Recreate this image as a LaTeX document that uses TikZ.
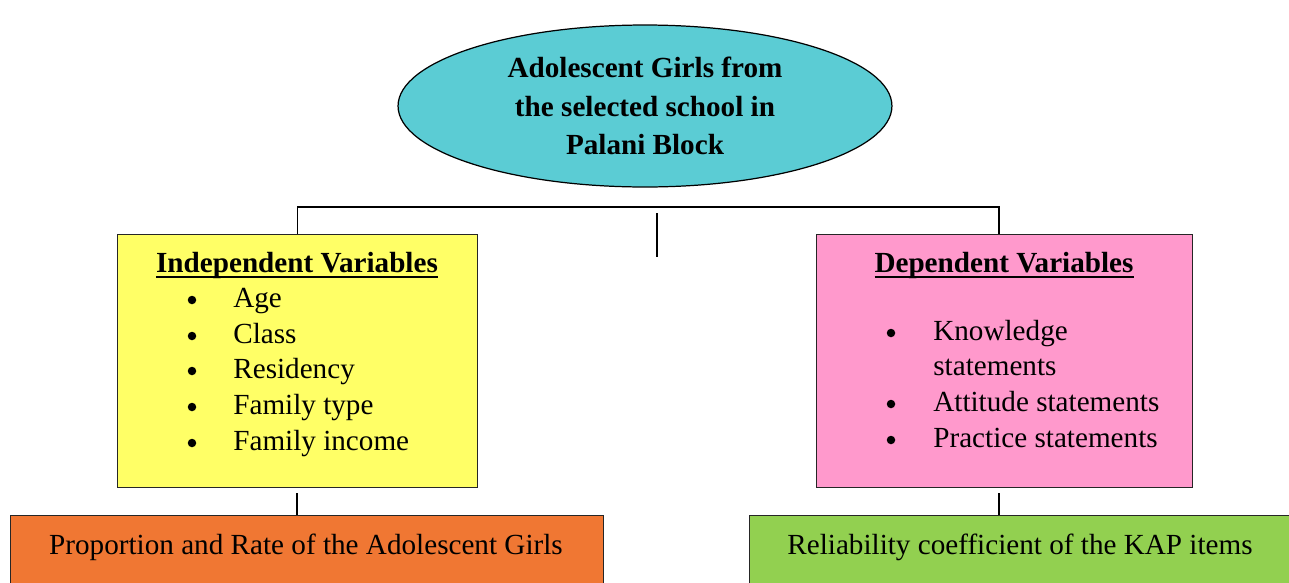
\documentclass[tikz,border=0pt]{standalone}
\usepackage{fontspec}
\setmainfont{Liberation Serif}
\usetikzlibrary{shapes.geometric}

\definecolor{girlscyan}{HTML}{5BCCD4}
\definecolor{indepyellow}{HTML}{FFFF66}
\definecolor{deppink}{HTML}{FF99CC}
\definecolor{proporange}{HTML}{F07733}
\definecolor{relgreen}{HTML}{92D050}

% heavier underline for the box headings
\newcommand{\uhead}[1]{\leavevmode\setbox0=\hbox{#1}\rlap{\vrule height -2.3pt depth 3.4pt width \wd0}\box0}

\tikzset{
  box/.style={draw=black!85, line width=0.8pt, rectangle, inner sep=0pt, anchor=north west},
  txt/.style={font=\fontsize{16.6}{20.5}\selectfont, inner sep=0pt},
  head/.style={txt, anchor=base, font=\fontsize{16.6}{20.5}\selectfont\bfseries},
  item/.style={txt, anchor=base west},
  dot/.style={circle, fill=black, inner sep=0pt, minimum size=0.17cm},
  link/.style={line width=0.85pt}
}

\begin{document}
\begin{tikzpicture}[x=0.02cm, y=-0.02cm]
      \useasboundingbox (0,0) rectangle (1289,582);
      \clip (0,0) rectangle (1289,582);

      % Nodes
      \node[draw=black, line width=0.7pt, fill=girlscyan, ellipse, minimum width=9.88cm, minimum height=3.24cm,
            align=center, font=\fontsize{16.6}{21.9}\selectfont\bfseries] (girls) at (645,106)
            {Adolescent Girls from\\the selected school in\\Palani Block};

      \node[box, fill=indepyellow, minimum width=7.2cm, minimum height=5.06cm] (indep) at (117,234) {};
      \node[box, fill=deppink, minimum width=7.52cm, minimum height=5.06cm] (dep) at (816,234) {};
      \node[box, fill=proporange, minimum width=11.86cm, minimum height=2.4cm] (prop) at (10,515) {};
      \node[box, fill=relgreen, minimum width=12cm, minimum height=2.4cm] (rel) at (749,515) {};

      % Independent variables
      \node[head] (indephead) at (297,272) {\uhead{Independent Variables}};
      \node[dot] (ia) at (192,300) {};   \node[item] (age) at (233,307) {Age};
      \node[dot] (ib) at (192,336) {};   \node[item] (class) at (233,343) {Class};
      \node[dot] (ic) at (192,371) {};   \node[item] (resid) at (233,378) {Residency};
      \node[dot] (id) at (192,407) {};   \node[item] (ftype) at (233,414) {Family type};
      \node[dot] (ie) at (192,443) {};   \node[item] (fincome) at (233,450) {Family income};

      % Dependent variables
      \node[head] (dephead) at (1004,272) {\uhead{Dependent Variables}};
      \node[dot] (da) at (891,333) {};   \node[item] (know) at (933,340) {Knowledge};
      \node[item] (know2) at (933,375) {statements};
      \node[dot] (db) at (891,404) {};   \node[item] (att) at (933,411) {Attitude statements};
      \node[dot] (dc) at (891,440) {};   \node[item] (prac) at (933,447) {Practice statements};

      % Outcomes
      \node[txt, anchor=base] (proptext) at (306,554) {Proportion and Rate of the Adolescent Girls};
      \node[txt, anchor=base] (reltext) at (1020,554) {Reliability coefficient of the KAP items};

      % Edges
      \coordinate (barR) at (999,207);
      \coordinate (stubT) at (657,213);
      \coordinate (stubB) at (657,257);
      \coordinate (indepdrop) at (297,493);
      \coordinate (depdrop) at (999,493);

      \draw[link] (indep.north) |- (barR) -- (barR |- dep.north);
      \draw[link] (stubT) -- (stubB);
      \draw[link] (indepdrop) -- (indepdrop |- prop.north);
      \draw[link] (depdrop) -- (depdrop |- rel.north);
    \end{tikzpicture}
\end{document}
